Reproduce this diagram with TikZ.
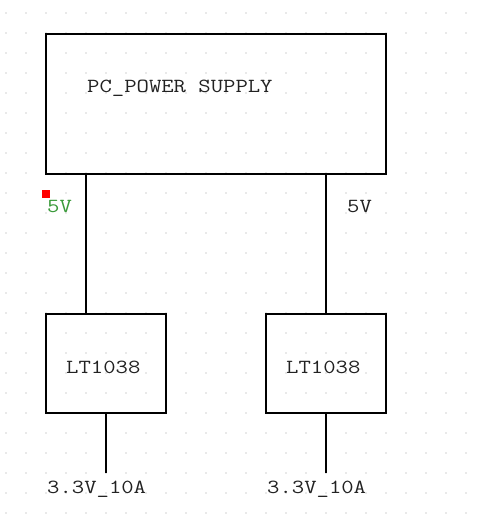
\documentclass[tikz,border=0pt]{standalone}
\usepackage{fontspec}
\newfontfamily\monof[FakeStretch=1.2]{Latin Modern Mono}
\definecolor{txt}{HTML}{222222}
\definecolor{grn}{HTML}{3A9A3A}
\definecolor{dotc}{HTML}{A0A0A0}
\begin{document}
\begin{tikzpicture}[x=1pt,y=-1pt,
  box/.style={draw=black,line width=1.6pt,inner sep=0pt,fill=none},
  wire/.style={draw=black,line width=1.6pt},
  lbl/.style={inner sep=0pt,anchor=base west,font=\monof\fontsize{20}{24}\selectfont,text=txt}]
\useasboundingbox (0,0) rectangle (484,526);
\fill[white] (0,0) rectangle (484,526);
\foreach \i in {0,...,23} {\foreach \j in {0,...,25} {
  \fill[dotc] (6+20*\i,13+20*\j) circle (0.6);}}
\node[box,minimum width=340pt,minimum height=140pt] (pc) at (216,104) {};
\node[lbl] (pct) at (87,93) {PC\_POWER SUPPLY};
\node[box,minimum width=120pt,minimum height=99pt] (lt1) at (106,363.5) {};
\node[box,minimum width=120pt,minimum height=99pt] (lt2) at (326,363.5) {};
\node[lbl] (lt1t) at (66,373) {LT1038};
\node[lbl] (lt2t) at (286,373) {LT1038};
\coordinate (tap1) at (86,0);
\coordinate (o1) at (106,473);
\coordinate (o2) at (326,473);
\draw[wire] (pc.south -| tap1) -- (lt1.north -| tap1);
\draw[wire] (pc.south -| lt2) -- (lt2.north);
\draw[wire] (lt1.south) -- (o1);
\draw[wire] (lt2.south) -- (o2);
\node[lbl] (v1) at (47,493) {3.3V\_10A};
\node[lbl] (v2) at (267,493) {3.3V\_10A};
\node[lbl,text=grn] (f1) at (47,213) {5V};
\node[lbl] (f2) at (347,213) {5V};
\fill[red] (42,190) rectangle (50,198);
\end{tikzpicture}
\end{document}
